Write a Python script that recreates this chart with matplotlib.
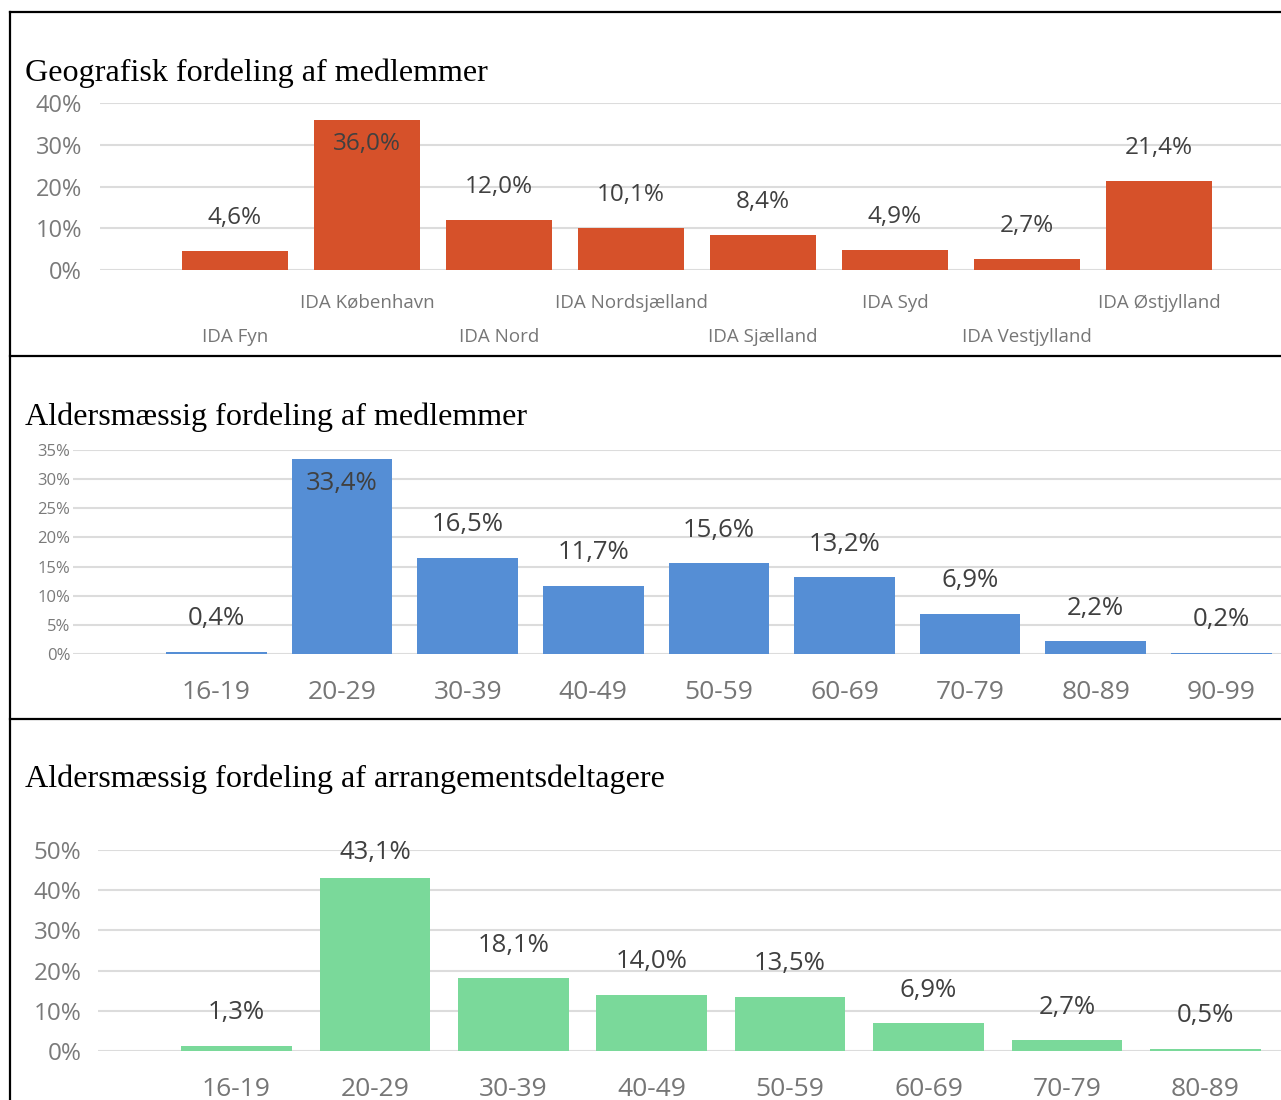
import matplotlib
matplotlib.use("Agg")
import matplotlib.pyplot as plt
from matplotlib.lines import Line2D

W, H = 1281, 1100

# data
geo_names = ["IDA Fyn", "IDA København", "IDA Nord", "IDA Nordsjælland",
             "IDA Sjælland", "IDA Syd", "IDA Vestjylland", "IDA Østjylland"]
geo_values = [4.6, 36.0, 12.0, 10.1, 8.4, 4.9, 2.7, 21.4]

member_ages = ["16-19", "20-29", "30-39", "40-49", "50-59", "60-69",
               "70-79", "80-89", "90-99"]
member_values = [0.4, 33.4, 16.5, 11.7, 15.6, 13.2, 6.9, 2.2, 0.2]

event_ages = ["16-19", "20-29", "30-39", "40-49", "50-59", "60-69",
              "70-79", "80-89"]
event_values = [1.3, 43.1, 18.1, 14.0, 13.5, 6.9, 2.7, 0.5]

plt.rcParams["font.family"] = ["Open Sans", "DejaVu Sans"]

fig = plt.figure(figsize=(W / 100, H / 100), dpi=100)
fig.patch.set_facecolor("white")


def px_axes(x0, y_top, x1, y_bot):
    return fig.add_axes([x0 / W, 1 - y_bot / H, (x1 - x0) / W, (y_bot - y_top) / H])


def fmt(v):
    return f"{v:.1f}".replace(".", ",") + "%"


def draw_panel(box, first_px, step_px, names, values, color, ymax, ystep,
               ytick_size, ytick_pad, xtick_size, xtick_pad, val_size,
               inside_over=None, stagger=None):
    x0, y_top, x1, y_bot = box
    ax = px_axes(*box)
    ax.set_xlim(-(first_px - x0) / step_px, (x1 - first_px) / step_px)
    ax.set_ylim(0, ymax)
    xs = list(range(len(values)))
    ax.bar(xs, values, width=0.8, color=color, zorder=3)
    yticks = list(range(0, ymax + 1, ystep))
    ax.set_yticks(yticks)
    ax.set_yticklabels([f"{t}%" for t in yticks], fontsize=ytick_size, color="#7a7a7a")
    ax.tick_params(axis="y", length=0, pad=ytick_pad)
    ax.grid(axis="y", color="#dcdcdc", linewidth=1.5, zorder=0)
    ax.set_xticks(xs)
    ax.set_xticklabels(names, fontsize=xtick_size, color="#767676")
    ax.tick_params(axis="x", length=0, pad=xtick_pad)
    if stagger:
        for i, t in enumerate(ax.xaxis.get_major_ticks()):
            t.set_pad(stagger[0] if i % 2 else stagger[1])
    for s in ax.spines.values():
        s.set_visible(False)
    ax.set_facecolor("none")
    for x, v in zip(xs, values):
        if inside_over is not None and v > inside_over:
            off = -24
        else:
            off = 33
        if inside_over is None and v > ymax - 10:
            off = 25
        ax.annotate(fmt(v), (x, v), xytext=(0, off), textcoords="offset pixels",
                    ha="center", va="center", fontsize=val_size, color="#404040",
                    zorder=5, clip_on=False)
    return ax


# panel 1: geography
draw_panel((100, 103, 1281, 270), 235, 132, geo_names, geo_values, "#d6512a",
           40, 10, 17, 13, 13.5, 0, 17.5, inside_over=30, stagger=(17, 42))

# panel 2: member ages
draw_panel((73, 450, 1281, 654), 216.5, 125.6, member_ages, member_values, "#558ed5",
           35, 5, 12, 2, 19, 19, 18.5, inside_over=30)

# panel 3: event participants
draw_panel((98, 850, 1281, 1051), 236.5, 138.4, event_ages, event_values, "#7ad99a",
           50, 10, 17.5, 12, 19, 19, 18.5)

# titles
titles = ["Geografisk fordeling af medlemmer",
          "Aldersmæssig fordeling af medlemmer",
          "Aldersmæssig fordeling af arrangementsdeltagere"]
baselines = [81, 425, 787]
for t, b in zip(titles, baselines):
    fig.text(25 / W, 1 - b / H, t, family="Liberation Serif", fontsize=23.1,
             color="black", va="baseline", ha="left")

# table borders
def hline(y, x0=10, x1=W):
    fig.add_artist(Line2D([x0 / W, x1 / W], [1 - y / H, 1 - y / H],
                          transform=fig.transFigure, color="black", linewidth=1.6))

hline(12)
hline(356)
hline(719)
fig.add_artist(Line2D([10 / W, 10 / W], [1 - 12 / H, 0], transform=fig.transFigure,
                      color="black", linewidth=1.6))

fig.savefig("out.png", dpi=100, facecolor="white")
